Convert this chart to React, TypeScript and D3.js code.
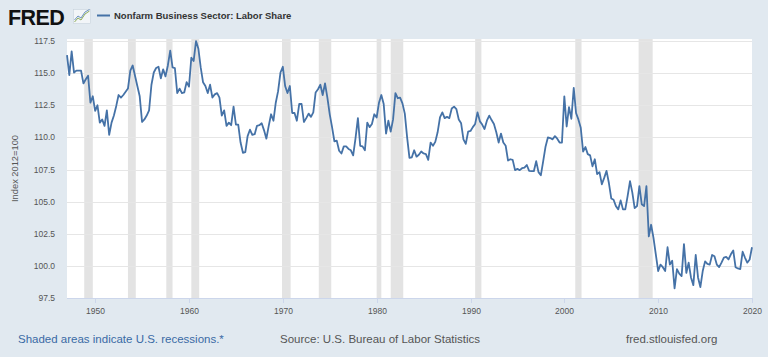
import React from "react";
import * as d3 from "d3";

// Quarterly values (Index 2012=100), first quarter 1947Q1
const v1940s = [116.4, 114.85, 116.7, 115.05, 115.2, 115.2, 115.2, 114.2, 114.53, 114.8, 112.7, 113.2];
const v1950s = [
  112.06, 112.5, 111.15, 111.4, 110.9, 112.1, 110.2, 111.15, 111.7, 112.45, 113.3, 113.1,
  113.3, 113.55, 113.8, 115.2, 115.6, 114.8, 114.0, 113.2, 111.2, 111.4, 111.7, 112.1,
  114.1, 115.05, 115.4, 115.5, 114.6, 115.3, 114.75, 115.6, 116.75, 115.45, 115.4, 113.45,
  113.8, 113.45, 113.5, 114.3,
];
const v1960s = [
  113.95, 116.2, 115.95, 117.5, 116.9, 115.45, 114.3, 114.0, 113.45, 114.1, 113.1, 113.35,
  113.45, 113.1, 111.7, 112.1, 110.9, 111.15, 110.95, 112.4, 111.0, 111.0, 109.6, 108.8,
  108.85, 110.1, 110.6, 110.2, 110.25, 110.9, 110.95, 111.1, 110.55, 109.9, 110.9, 111.8,
  111.3, 112.7, 113.6, 115.05,
];
const v1970s = [
  115.5, 114.0, 113.45, 114.0, 111.9, 111.9, 111.3, 112.6, 112.6, 111.2, 111.5, 111.85,
  111.6, 111.95, 113.5, 113.75, 114.1, 113.3, 114.2, 113.1, 111.8, 110.8, 109.7, 109.75,
  108.96, 108.75, 109.3, 109.3, 109.1, 109.0, 108.6, 109.95, 111.5, 109.35, 109.3, 109.0,
  111.15, 110.8, 111.05, 111.8,
];
const v1980s = [
  111.55, 112.7, 113.3, 112.6, 110.3, 111.3, 110.45, 111.4, 113.45, 113.05, 113.1, 112.65,
  111.85, 110.0, 108.4, 108.45, 109.0, 108.5, 108.65, 108.9, 108.75, 108.7, 108.25, 109.6,
  109.35, 109.65, 110.4, 111.55, 111.95, 111.5, 111.6, 111.5, 112.25, 112.4, 112.2, 111.4,
  111.1, 109.85, 109.5, 110.45,
];
const v1990s = [
  110.5, 110.8, 111.05, 111.95, 111.25, 111.0, 110.65, 111.3, 111.7, 111.35, 111.05, 110.4,
  109.6, 110.3, 109.6, 109.35, 108.2, 108.3, 108.25, 107.45, 107.55, 107.45, 107.6, 107.65,
  107.85, 107.4, 107.37, 107.37, 108.15, 107.3, 107.05, 108.15, 109.3, 110.0, 109.95, 109.85,
  110.1, 109.9, 109.6, 109.6,
];
const v2000s = [
  113.2, 110.85, 112.35, 111.45, 113.85, 111.9, 111.4, 110.75, 108.9, 109.25, 108.7, 108.6,
  107.75, 108.3, 107.15, 107.3, 106.35, 106.85, 107.4, 106.45, 105.25, 105.15, 104.65, 104.4,
  105.1, 104.4, 104.4, 105.45, 106.6, 105.7, 104.5, 104.65, 106.2, 104.8, 104.65, 106.2,
  102.3, 103.2, 102.2, 100.9,
];
const v2010s = [
  99.6, 100.1, 99.9, 99.6, 101.45, 100.1, 100.4, 98.25, 99.75, 99.4, 99.2, 101.7,
  99.45, 100.25, 99.1, 98.5, 100.85, 99.1, 98.35, 99.6, 100.35, 100.15, 100.1, 100.85,
  100.75, 100.1, 99.9, 100.25, 100.65, 100.7, 100.5, 100.9, 101.2, 99.9, 99.8, 99.75,
  101.1, 100.65, 100.25, 100.5,
];
const v2020s = [101.45];

const recessions: [string, string][] = [
  ["1948-11-01", "1949-10-01"],
  ["1953-07-01", "1954-05-01"],
  ["1957-08-01", "1958-04-01"],
  ["1960-04-01", "1961-02-01"],
  ["1969-12-01", "1970-11-01"],
  ["1973-11-01", "1975-03-01"],
  ["1980-01-01", "1980-07-01"],
  ["1981-07-01", "1982-11-01"],
  ["1990-07-01", "1991-03-01"],
  ["2001-03-01", "2001-11-01"],
  ["2007-12-01", "2009-06-01"],
];

const yTicks = [97.5, 100.0, 102.5, 105.0, 107.5, 110.0, 112.5, 115.0, 117.5];
const xTickYears = [1950, 1960, 1970, 1980, 1990, 2000, 2010, 2020];

const title = "Nonfarm Business Sector: Labor Share";
const yTitle = "Index 2012=100";
const noteText = "Shaded areas indicate U.S. recessions.*";
const sourceText = "Source: U.S. Bureau of Labor Statistics";
const siteText = "fred.stlouisfed.org";

const values = [...v1940s, ...v1950s, ...v1960s, ...v1970s, ...v1980s, ...v1990s, ...v2000s, ...v2010s, ...v2020s];
const data = values.map((v, i) => ({ date: new Date(1947, i * 3, 1), value: v }));

const W = 768;
const H = 357;
const plot = { left: 67, right: 752, top: 39, bottom: 298 };
const FONT = "'Liberation Sans', Arial, Helvetica, sans-serif";

export default function App() {
  const x = d3
    .scaleTime()
    .domain([new Date(1947, 0, 1), new Date(2020, 0, 1)])
    .range([plot.left, plot.right]);
  const y = d3.scaleLinear().domain([97.5, 117.66]).range([plot.bottom, plot.top]);

  const line = d3
    .line<{ date: Date; value: number }>()
    .x((d) => x(d.date))
    .y((d) => y(d.value));

  const parse = d3.timeParse("%Y-%m-%d");

  return (
    <svg
      width={W}
      height={H}
      style={{ position: "absolute", left: 0, top: 0, display: "block" }}
      fontFamily={FONT}
    >
      <rect x={0} y={0} width={W} height={H} fill="#e1e9f0" />
      {/* header */}
      <text x={8} y={25} fontSize={21.5} fontWeight={900} fill="#111" letterSpacing={-0.6}>
        FRED
      </text>
      <g>
        <rect x={73.5} y={9.5} width={17} height={14} fill="#f2f5f8" stroke="#c9d3dc" strokeWidth={0.6} />
        <polyline points="74.5,22 78,18 81,20 85,14 89.5,11" fill="none" stroke="#8fae5a" strokeWidth={1} />
        <polyline points="74.5,20 78,16 81,18 85,12 89.5,9.5" fill="none" stroke="#5d86b8" strokeWidth={0.9} />
      </g>
      <line x1={97} x2={110} y1={15.5} y2={15.5} stroke="#4572a7" strokeWidth={2} />
      <text x={114} y={19} fontSize={9.5} fontWeight={700} fill="#333">
        {title}
      </text>

      {/* plot area */}
      <rect
        x={plot.left}
        y={plot.top}
        width={plot.right - plot.left}
        height={plot.bottom - plot.top}
        fill="#ffffff"
      />
      {recessions.map(([a, b], i) => {
        const x0 = Math.max(plot.left, x(parse(a) as Date));
        const x1 = Math.min(plot.right, x(parse(b) as Date));
        return (
          <rect key={i} x={x0} y={plot.top} width={x1 - x0} height={plot.bottom - plot.top} fill="#e3e3e3" />
        );
      })}
      {yTicks.map((t) =>
        t === 97.5 ? null : (
          <line
            key={t}
            x1={plot.left}
            x2={plot.right}
            y1={Math.round(y(t)) + 0.5}
            y2={Math.round(y(t)) + 0.5}
            stroke="#e6e6e6"
            strokeWidth={1}
          />
        )
      )}
      <line
        x1={plot.left}
        x2={plot.right}
        y1={plot.bottom + 0.5}
        y2={plot.bottom + 0.5}
        stroke="#ccd6eb"
        strokeWidth={1}
      />
      {xTickYears.map((yr) => {
        const xx = Math.round(x(new Date(yr, 0, 1))) + 0.5;
        return (
          <g key={yr}>
            <line x1={xx} x2={xx} y1={plot.bottom} y2={plot.bottom + 5} stroke="#ccd6eb" strokeWidth={1} />
            <text x={xx} y={313.5} fontSize={8.5} fill="#555" textAnchor="middle">
              {yr}
            </text>
          </g>
        );
      })}
      {yTicks.map((t) => (
        <text key={t} x={55} y={y(t) + 3} fontSize={8.5} fill="#555" textAnchor="end">
          {t.toFixed(1)}
        </text>
      ))}
      <text
        transform={`translate(17.5, ${(plot.top + plot.bottom) / 2}) rotate(-90)`}
        fontSize={9.3}
        fill="#555"
        textAnchor="middle"
      >
        {yTitle}
      </text>

      <path d={line(data) || ""} fill="none" stroke="#4572a7" strokeWidth={1.8} strokeLinejoin="round" />

      {/* footer */}
      <text x={18} y={343} fontSize={11.5} fill="#3a6aa5">
        {noteText}
      </text>
      <text x={280} y={343} fontSize={11.5} fill="#555">
        {sourceText}
      </text>
      <text x={626} y={343} fontSize={11.5} fill="#555">
        {siteText}
      </text>
    </svg>
  );
}
